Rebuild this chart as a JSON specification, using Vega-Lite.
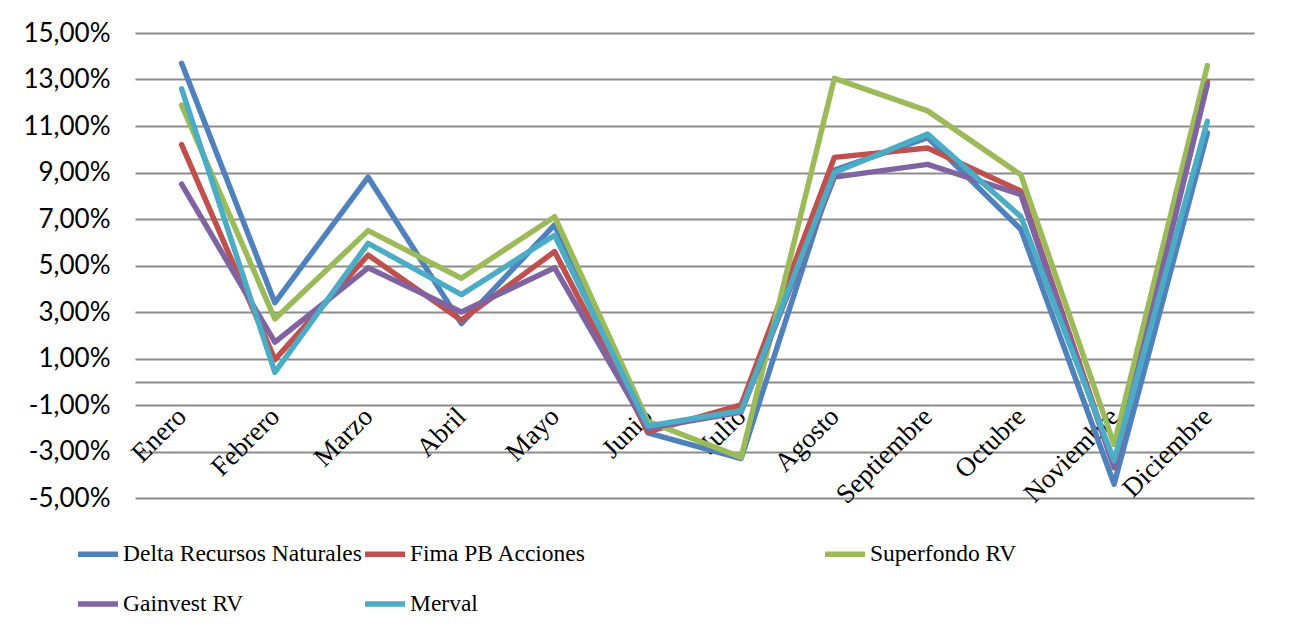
{
  "$schema": "https://vega.github.io/schema/vega-lite/v6.json",
  "width": 1119,
  "height": 465,
  "autosize": {"type": "none"},
  "padding": {"left": 135, "top": 33, "right": 37, "bottom": 139},
  "background": "white",
  "config": {"view": {"stroke": null}, "font": "Liberation Serif"},
  "data": {
    "values": [
      {"series": "Delta Recursos Naturales", "month": "Enero", "value": 13.7},
      {"series": "Delta Recursos Naturales", "month": "Febrero", "value": 3.4},
      {"series": "Delta Recursos Naturales", "month": "Marzo", "value": 8.8},
      {"series": "Delta Recursos Naturales", "month": "Abril", "value": 2.5},
      {"series": "Delta Recursos Naturales", "month": "Mayo", "value": 6.75},
      {"series": "Delta Recursos Naturales", "month": "Junio", "value": -2.2},
      {"series": "Delta Recursos Naturales", "month": "Julio", "value": -3.3},
      {"series": "Delta Recursos Naturales", "month": "Agosto", "value": 9.1},
      {"series": "Delta Recursos Naturales", "month": "Septiembre", "value": 10.5},
      {"series": "Delta Recursos Naturales", "month": "Octubre", "value": 6.55},
      {"series": "Delta Recursos Naturales", "month": "Noviembre", "value": -4.4},
      {"series": "Delta Recursos Naturales", "month": "Diciembre", "value": 10.7},
      {"series": "Fima PB Acciones", "month": "Enero", "value": 10.2},
      {"series": "Fima PB Acciones", "month": "Febrero", "value": 0.95},
      {"series": "Fima PB Acciones", "month": "Marzo", "value": 5.45},
      {"series": "Fima PB Acciones", "month": "Abril", "value": 2.65},
      {"series": "Fima PB Acciones", "month": "Mayo", "value": 5.6},
      {"series": "Fima PB Acciones", "month": "Junio", "value": -2.15},
      {"series": "Fima PB Acciones", "month": "Julio", "value": -1.0},
      {"series": "Fima PB Acciones", "month": "Agosto", "value": 9.65},
      {"series": "Fima PB Acciones", "month": "Septiembre", "value": 10.05},
      {"series": "Fima PB Acciones", "month": "Octubre", "value": 8.2},
      {"series": "Fima PB Acciones", "month": "Noviembre", "value": -3.6},
      {"series": "Fima PB Acciones", "month": "Diciembre", "value": 12.9},
      {"series": "Superfondo RV", "month": "Enero", "value": 11.9},
      {"series": "Superfondo RV", "month": "Febrero", "value": 2.7},
      {"series": "Superfondo RV", "month": "Marzo", "value": 6.5},
      {"series": "Superfondo RV", "month": "Abril", "value": 4.45},
      {"series": "Superfondo RV", "month": "Mayo", "value": 7.1},
      {"series": "Superfondo RV", "month": "Junio", "value": -1.7},
      {"series": "Superfondo RV", "month": "Julio", "value": -3.25},
      {"series": "Superfondo RV", "month": "Agosto", "value": 13.05},
      {"series": "Superfondo RV", "month": "Septiembre", "value": 11.65},
      {"series": "Superfondo RV", "month": "Octubre", "value": 8.9},
      {"series": "Superfondo RV", "month": "Noviembre", "value": -2.7},
      {"series": "Superfondo RV", "month": "Diciembre", "value": 13.6},
      {"series": "Gainvest RV", "month": "Enero", "value": 8.5},
      {"series": "Gainvest RV", "month": "Febrero", "value": 1.7},
      {"series": "Gainvest RV", "month": "Marzo", "value": 4.9},
      {"series": "Gainvest RV", "month": "Abril", "value": 3.0},
      {"series": "Gainvest RV", "month": "Mayo", "value": 4.9},
      {"series": "Gainvest RV", "month": "Junio", "value": -2.0},
      {"series": "Gainvest RV", "month": "Julio", "value": -1.3},
      {"series": "Gainvest RV", "month": "Agosto", "value": 8.8},
      {"series": "Gainvest RV", "month": "Septiembre", "value": 9.35},
      {"series": "Gainvest RV", "month": "Octubre", "value": 8.05},
      {"series": "Gainvest RV", "month": "Noviembre", "value": -3.7},
      {"series": "Gainvest RV", "month": "Diciembre", "value": 12.8},
      {"series": "Merval", "month": "Enero", "value": 12.6},
      {"series": "Merval", "month": "Febrero", "value": 0.4},
      {"series": "Merval", "month": "Marzo", "value": 5.95},
      {"series": "Merval", "month": "Abril", "value": 3.75},
      {"series": "Merval", "month": "Mayo", "value": 6.3},
      {"series": "Merval", "month": "Junio", "value": -1.9},
      {"series": "Merval", "month": "Julio", "value": -1.25},
      {"series": "Merval", "month": "Agosto", "value": 9.0},
      {"series": "Merval", "month": "Septiembre", "value": 10.65},
      {"series": "Merval", "month": "Octubre", "value": 7.1},
      {"series": "Merval", "month": "Noviembre", "value": -3.4},
      {"series": "Merval", "month": "Diciembre", "value": 11.2}
    ]
  },
  "mark": {"type": "line", "strokeWidth": 5.5, "strokeCap": "round", "strokeJoin": "round"},
  "encoding": {
    "x": {
      "field": "month",
      "type": "nominal",
      "sort": ["Enero", "Febrero", "Marzo", "Abril", "Mayo", "Junio", "Julio", "Agosto", "Septiembre", "Octubre", "Noviembre", "Diciembre"],
      "scale": {"type": "point", "padding": 0.5},
      "axis": {
        "title": null,
        "labelAngle": -45,
        "labelAlign": "right",
        "labelBaseline": "middle",
        "labelPadding": 30,
        "labelOffset": 0,
        "labelFontSize": 27,
        "labelFont": "Liberation Serif",
        "labelColor": "black",
        "labelOverlap": false,
        "labelBound": false,
        "ticks": false,
        "tickSize": 0,
        "domain": true,
        "domainColor": "#8c8c8c",
        "domainWidth": 2,
        "offset": -116,
        "grid": false
      }
    },
    "y": {
      "field": "value",
      "type": "quantitative",
      "scale": {"domain": [-5, 15], "nice": false, "zero": false},
      "axis": {
        "title": null,
        "values": [-5, -3, -1, 1, 3, 5, 7, 9, 11, 13, 15],
        "labelExpr": "(datum.value < 0 ? '-' : '') + replace(format(abs(datum.value), '.2f'), '.', ',') + '%'",
        "grid": true,
        "gridColor": "#8c8c8c",
        "gridWidth": 2,
        "domain": false,
        "ticks": false,
        "tickSize": 0,
        "labelPadding": 25,
        "labelFontSize": 26,
        "labelFont": "Lato",
        "labelColor": "black"
      }
    },
    "color": {
      "field": "series",
      "type": "nominal",
      "scale": {
        "domain": ["Delta Recursos Naturales", "Fima PB Acciones", "Superfondo RV", "Gainvest RV", "Merval"],
        "range": ["#4F81BD", "#C0504D", "#9BBB59", "#8064A2", "#4BACC6"]
      },
      "legend": {
        "orient": "none",
        "legendX": -60,
        "legendY": 498,
        "direction": "horizontal",
        "columns": 3,
        "gridAlign": "each",
        "title": null,
        "padding": 0,
        "symbolType": "stroke",
        "symbolSize": 1600,
        "symbolStrokeWidth": 5.5,
        "labelFontSize": 23.5,
        "labelFont": "Liberation Serif",
        "labelColor": "black",
        "labelLimit": 900,
        "labelOffset": 2,
        "columnPadding": -15,
        "rowPadding": 15,
        "labelExpr": "datum.label == 'Fima PB Acciones' ? datum.label + '\u2003\u2003\u2003\u2003\u2003\u2003\u2003\u2003\u2003\u00a0\u00a0\u00a0\u00a0\u200b' : datum.label"
      }
    }
  }
}
